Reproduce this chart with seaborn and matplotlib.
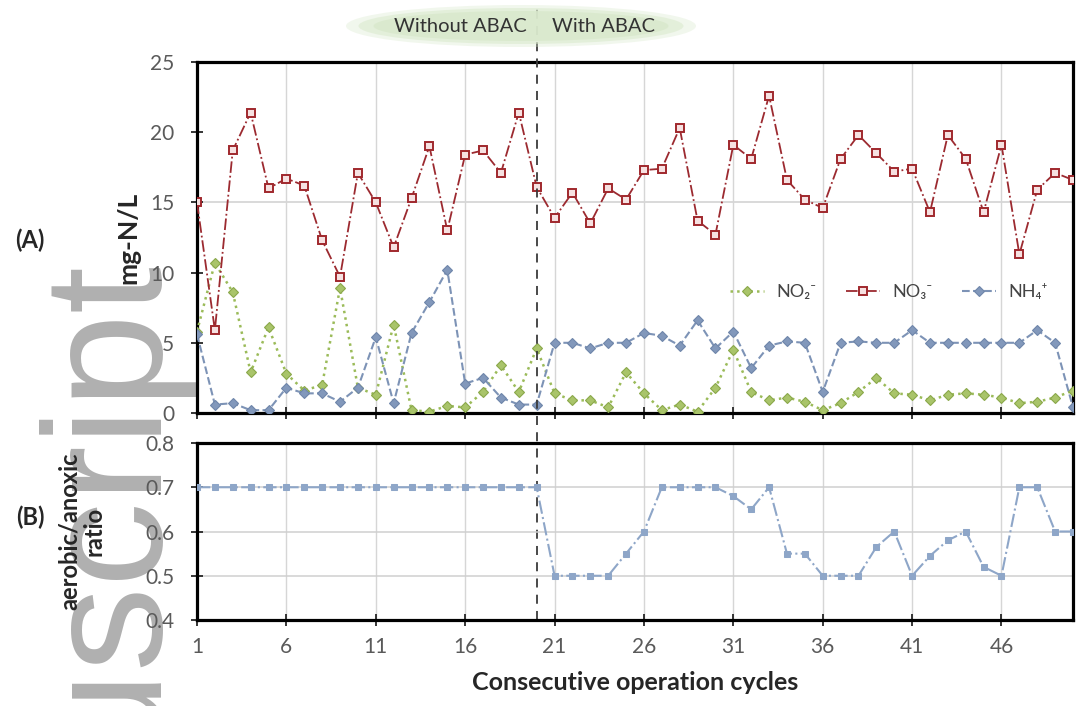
import numpy as np
import matplotlib.pyplot as plt
from matplotlib.patches import Ellipse
from matplotlib.lines import Line2D
import seaborn as sns

# ── data ──────────────────────────────────────────────────────────────────────
cycles = np.arange(1, 51)

no3 = [15.0, 5.9, 18.7, 21.4, 16.0, 16.7, 16.2, 12.3, 9.7, 17.1,
       15.0, 11.8, 15.3, 19.0, 13.0, 18.4, 18.7, 17.1, 21.4, 16.1,
       13.9, 15.7, 13.5, 16.0, 15.2, 17.3, 17.4, 20.3, 13.7, 12.7,
       19.1, 18.1, 22.6, 16.6, 15.2, 14.6, 18.1, 19.8, 18.5, 17.2,
       17.4, 14.3, 19.8, 18.1, 14.3, 19.1, 11.3, 15.9, 17.1, 16.6]

no2 = [5.8, 10.7, 8.6, 2.9, 6.1, 2.8, 1.6, 2.0, 8.9, 1.8,
       1.3, 6.3, 0.2, 0.1, 0.5, 0.4, 1.5, 3.4, 1.5, 4.6,
       1.4, 0.9, 0.9, 0.4, 2.9, 1.4, 0.2, 0.6, 0.1, 1.8,
       4.5, 1.5, 0.9, 1.1, 0.8, 0.2, 0.7, 1.5, 2.5, 1.4,
       1.3, 0.9, 1.3, 1.4, 1.3, 1.1, 0.7, 0.8, 1.1, 1.6]

nh4 = [5.6, 0.6, 0.7, 0.2, 0.2, 1.8, 1.4, 1.4, 0.8, 1.8,
       5.4, 0.7, 5.7, 7.9, 10.2, 2.1, 2.5, 1.1, 0.6, 0.6,
       5.0, 5.0, 4.6, 5.0, 5.0, 5.7, 5.5, 4.8, 6.6, 4.6,
       5.8, 3.2, 4.8, 5.1, 5.0, 1.5, 5.0, 5.1, 5.0, 5.0,
       5.9, 5.0, 5.0, 5.0, 5.0, 5.0, 5.0, 5.9, 5.0, 0.4]

ratio = [0.70, 0.70, 0.70, 0.70, 0.70, 0.70, 0.70, 0.70, 0.70, 0.70,
         0.70, 0.70, 0.70, 0.70, 0.70, 0.70, 0.70, 0.70, 0.70, 0.70,
         0.50, 0.50, 0.50, 0.50, 0.55, 0.60, 0.70, 0.70, 0.70, 0.70,
         0.68, 0.65, 0.70, 0.55, 0.55, 0.50, 0.50, 0.50, 0.565, 0.60,
         0.50, 0.545, 0.58, 0.60, 0.52, 0.50, 0.70, 0.70, 0.60, 0.60]

series_labels = ['NO₂⁻', 'NO₃⁻', 'NH₄⁺']
phase_labels = ['Without ABAC', 'With ABAC']
abac_start = 20
x_ticks = [1, 6, 11, 16, 21, 26, 31, 36, 41, 46]
a_ticks = [0, 5, 10, 15, 20, 25]
b_ticks = [0.4, 0.5, 0.6, 0.7, 0.8]
b_ticklabels = ['0.4', '0.5', '0.6', '0.7', '0.8']

# ── style ─────────────────────────────────────────────────────────────────────
sns.set_style('white')
plt.rcParams['font.family'] = ['Lato', 'DejaVu Sans']

W, H = 1076, 706
fig = plt.figure(figsize=(W / 100, H / 100), dpi=100)


def box(l, t, r, b):
    return [l / W, 1 - b / H, (r - l) / W, (b - t) / H]


ax_a = fig.add_axes(box(197, 62, 1073, 413))
ax_b = fig.add_axes(box(197, 443, 1073, 620), sharex=ax_a)
ax_b.set_facecolor('none')

# ── (A) N species ─────────────────────────────────────────────────────────────
sns.lineplot(x=cycles, y=no2, ax=ax_a, color='#9bbb59', linestyle=':', linewidth=1.8,
             marker='D', markersize=5, markerfacecolor='#a9c46a', markeredgecolor='#8aa84a',
             markeredgewidth=0.8, label=series_labels[0], zorder=3)
sns.lineplot(x=cycles, y=no3, ax=ax_a, color='#9c2a30', linestyle='-.', linewidth=1.3,
             marker='s', markersize=6, markerfacecolor='#f6e1e1', markeredgecolor='#a0282d',
             markeredgewidth=1.4, label=series_labels[1], zorder=4)
sns.lineplot(x=cycles, y=nh4, ax=ax_a, color='#7d93b6', linestyle='--', linewidth=1.5,
             marker='D', markersize=5, markerfacecolor='#8298bb', markeredgecolor='#6f86aa',
             markeredgewidth=0.8, label=series_labels[2], zorder=3)

ax_a.legend(loc='center', bbox_to_anchor=(0.79, 0.345), ncol=3, frameon=False,
            fontsize=13, handlelength=1.9, columnspacing=1.6, handletextpad=0.7,
            labelcolor='#444444')

ax_a.set_ylim(0, 25)
ax_a.set_yticks(a_ticks)
ax_a.axhline(15, color='#cfcfcf', lw=1.1, zorder=0)

# ── (B) aerobic/anoxic ratio ──────────────────────────────────────────────────
sns.lineplot(x=cycles, y=ratio, ax=ax_b, color='#8ea6c8', linestyle='-.', linewidth=1.5,
             marker='s', markersize=4, markerfacecolor='#8ea6c8', markeredgecolor='#8ea6c8',
             zorder=3)
ax_b.set_ylim(0.4, 0.8)
ax_b.set_yticks(b_ticks)
ax_b.set_yticklabels(b_ticklabels)
ax_b.grid(axis='y', color='#cfcfcf', lw=1.1)

for ax in (ax_a, ax_b):
    ax.set_xlim(1, 50)
    ax.set_xticks(x_ticks)
    ax.grid(axis='x', color='#d6d6d6', lw=1.0)
    ax.set_axisbelow(True)
    ax.set_xlabel('')
    ax.set_ylabel('')
    for s in ax.spines.values():
        s.set_linewidth(2.3)
        s.set_color('black')
    ax.tick_params(bottom=True, left=True, direction='inout', length=9, width=1.3,
                   labelsize=15, labelcolor='#5a5a5a', pad=12)
ax_a.tick_params(labelbottom=False)
ax_b.tick_params(axis='x', pad=8)

# dashed divider at ABAC start, running through both panels
ax_a.add_artist(Line2D([abac_start, abac_start], [-0.59, 1.155],
                       transform=ax_a.get_xaxis_transform(), linestyle=(0, (5, 4)),
                       color='#3a3a3a', lw=1.3, clip_on=False, zorder=6))

# phase banner
for w, h, a in [(350, 42, 0.35), (325, 36, 0.55), (295, 30, 0.85)]:
    fig.add_artist(Ellipse((521 / W, 1 - 26 / H), w / W, h / H, transform=fig.transFigure,
                           facecolor='#d9e9cc', edgecolor='none', alpha=a, zorder=1))
fig.text(527 / W, 1 - 27 / H, phase_labels[0], ha='right', va='center', fontsize=14.5,
         color='#333333', zorder=2)
fig.text(552 / W, 1 - 27 / H, phase_labels[1], ha='left', va='center', fontsize=14.5,
         color='#333333', zorder=2)

# watermark
fig.text(148 / W, 1 - 252 / H, 'Manuscript', rotation=90, rotation_mode='anchor',
         ha='right', va='baseline', fontsize=122, color='#b0b0b0',
         family='Liberation Sans', zorder=-1)

# labels
fig.text(30 / W, 1 - 240 / H, '(A)', ha='center', va='center', fontsize=17, fontweight='bold')
fig.text(30 / W, 1 - 517 / H, '(B)', ha='center', va='center', fontsize=17, fontweight='bold')
fig.text(128 / W, 1 - 238 / H, 'mg-N/L', rotation=90, ha='center', va='center',
         fontsize=19, fontweight='bold')
fig.text(82 / W, 1 - 531 / H, 'aerobic/anoxic\nratio', rotation=90, ha='center', va='center',
         multialignment='center', fontsize=17, fontweight='bold', linespacing=1.1)
fig.text(635 / W, 1 - 683 / H, 'Consecutive operation cycles', ha='center', va='center',
         fontsize=18, fontweight='bold')

fig.savefig('out.png', dpi=100)
